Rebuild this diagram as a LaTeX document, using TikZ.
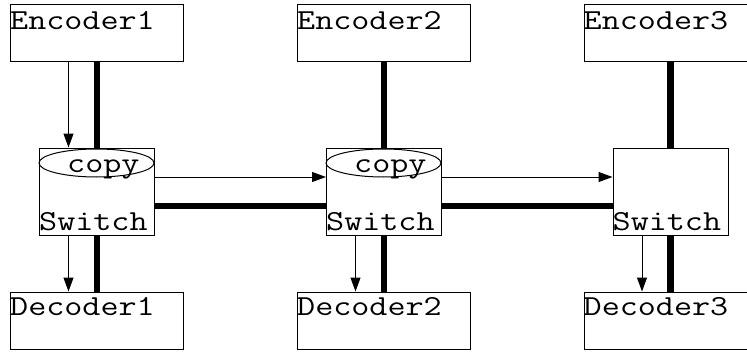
\documentclass[tikz,border=0pt]{standalone}
\usepackage{fontspec}
\usepackage{graphicx}
\usetikzlibrary{arrows.meta,shapes.geometric}

% serif typewriter face, widened to a Courier-like advance
\newcommand{\labelfont}{\ttfamily\fontsize{29}{35}\selectfont}
\newcommand{\wide}[1]{\scalebox{1.21}[1]{#1}}

\tikzset{
  unitbox/.style={draw, line width=1pt, fill=white, rectangle, inner sep=0pt,
                  minimum width=173pt, minimum height=57pt},
  switchbox/.style={draw, line width=1pt, fill=white, rectangle, inner sep=0pt,
                    minimum width=115pt, minimum height=87pt},
  copyell/.style={draw, line width=1pt, ellipse, inner sep=0pt,
                  minimum width=115pt, minimum height=28pt},
  lbl/.style={inner sep=0pt, font=\labelfont},
  bus/.style={line width=6.5pt},
  feed/.style={line width=1pt, -{Triangle[length=14pt,width=10pt]}},
}

\begin{document}
\begin{tikzpicture}[x=1pt, y=-1pt]
  \useasboundingbox (0,0) rectangle (747,353);
  \clip (0,0) rectangle (747,353);

  % encoders, switches and decoders, one column per channel
  \foreach \i/\x in {1/97, 2/384, 3/670.5} {
    \node[unitbox]   (enc\i) at (\x,33.5)  {};
    \node[switchbox] (sw\i)  at (\x,191.5) {};
    \node[unitbox]   (dec\i) at (\x,320.5) {};
  }

  % thick buses
  \foreach \i in {1,2,3} {
    \draw[bus] (enc\i.south) -- (sw\i.north);
    \draw[bus] (sw\i.south) -- (dec\i.north);
  }
  \draw[bus] ([yshift=-14.5pt]sw1.east) -- ([yshift=-14.5pt]sw2.west);
  \draw[bus] ([yshift=-14.5pt]sw2.east) -- ([yshift=-14.5pt]sw3.west);

  % copy stages inside the first two switches
  \node[copyell] (cp1) at (96.5,163) {};
  \node[copyell] (cp2) at (383.5,163) {};

  % labels
  \foreach \i in {1,2,3} {
    \node[lbl, anchor=base west] (enc\i t) at ([yshift=-25pt]enc\i.north west) {\wide{Encoder\i}};
    \node[lbl, anchor=base west] (dec\i t) at ([yshift=-24pt]dec\i.north west) {\wide{Decoder\i}};
    \node[lbl, anchor=base west] (sw\i t)  at ([yshift=5pt]sw\i.south west) {\wide{Switch}};
  }
  \node[lbl, anchor=base west] (cp1t) at ([xshift=28pt,yshift=-25pt]sw1.north west) {\wide{copy}};
  \node[lbl, anchor=base west] (cp2t) at ([xshift=28pt,yshift=-25pt]sw2.north west) {\wide{copy}};

  % thin data paths
  \draw[feed] ([xshift=-28.5pt]enc1.south -| sw1.north) -- ([xshift=-28.5pt]sw1.north);
  \foreach \i in {1,2,3} {
    \draw[feed] ([xshift=-28.5pt]sw\i.south) -- ([xshift=-28.5pt]sw\i.south |- dec\i.north);
  }
  \draw[feed] ([yshift=14.5pt]sw1.east) -- ([yshift=14.5pt]sw2.west);
  \draw[feed] ([yshift=14.5pt]sw2.east) -- ([yshift=14.5pt]sw3.west);
\end{tikzpicture}
\end{document}
